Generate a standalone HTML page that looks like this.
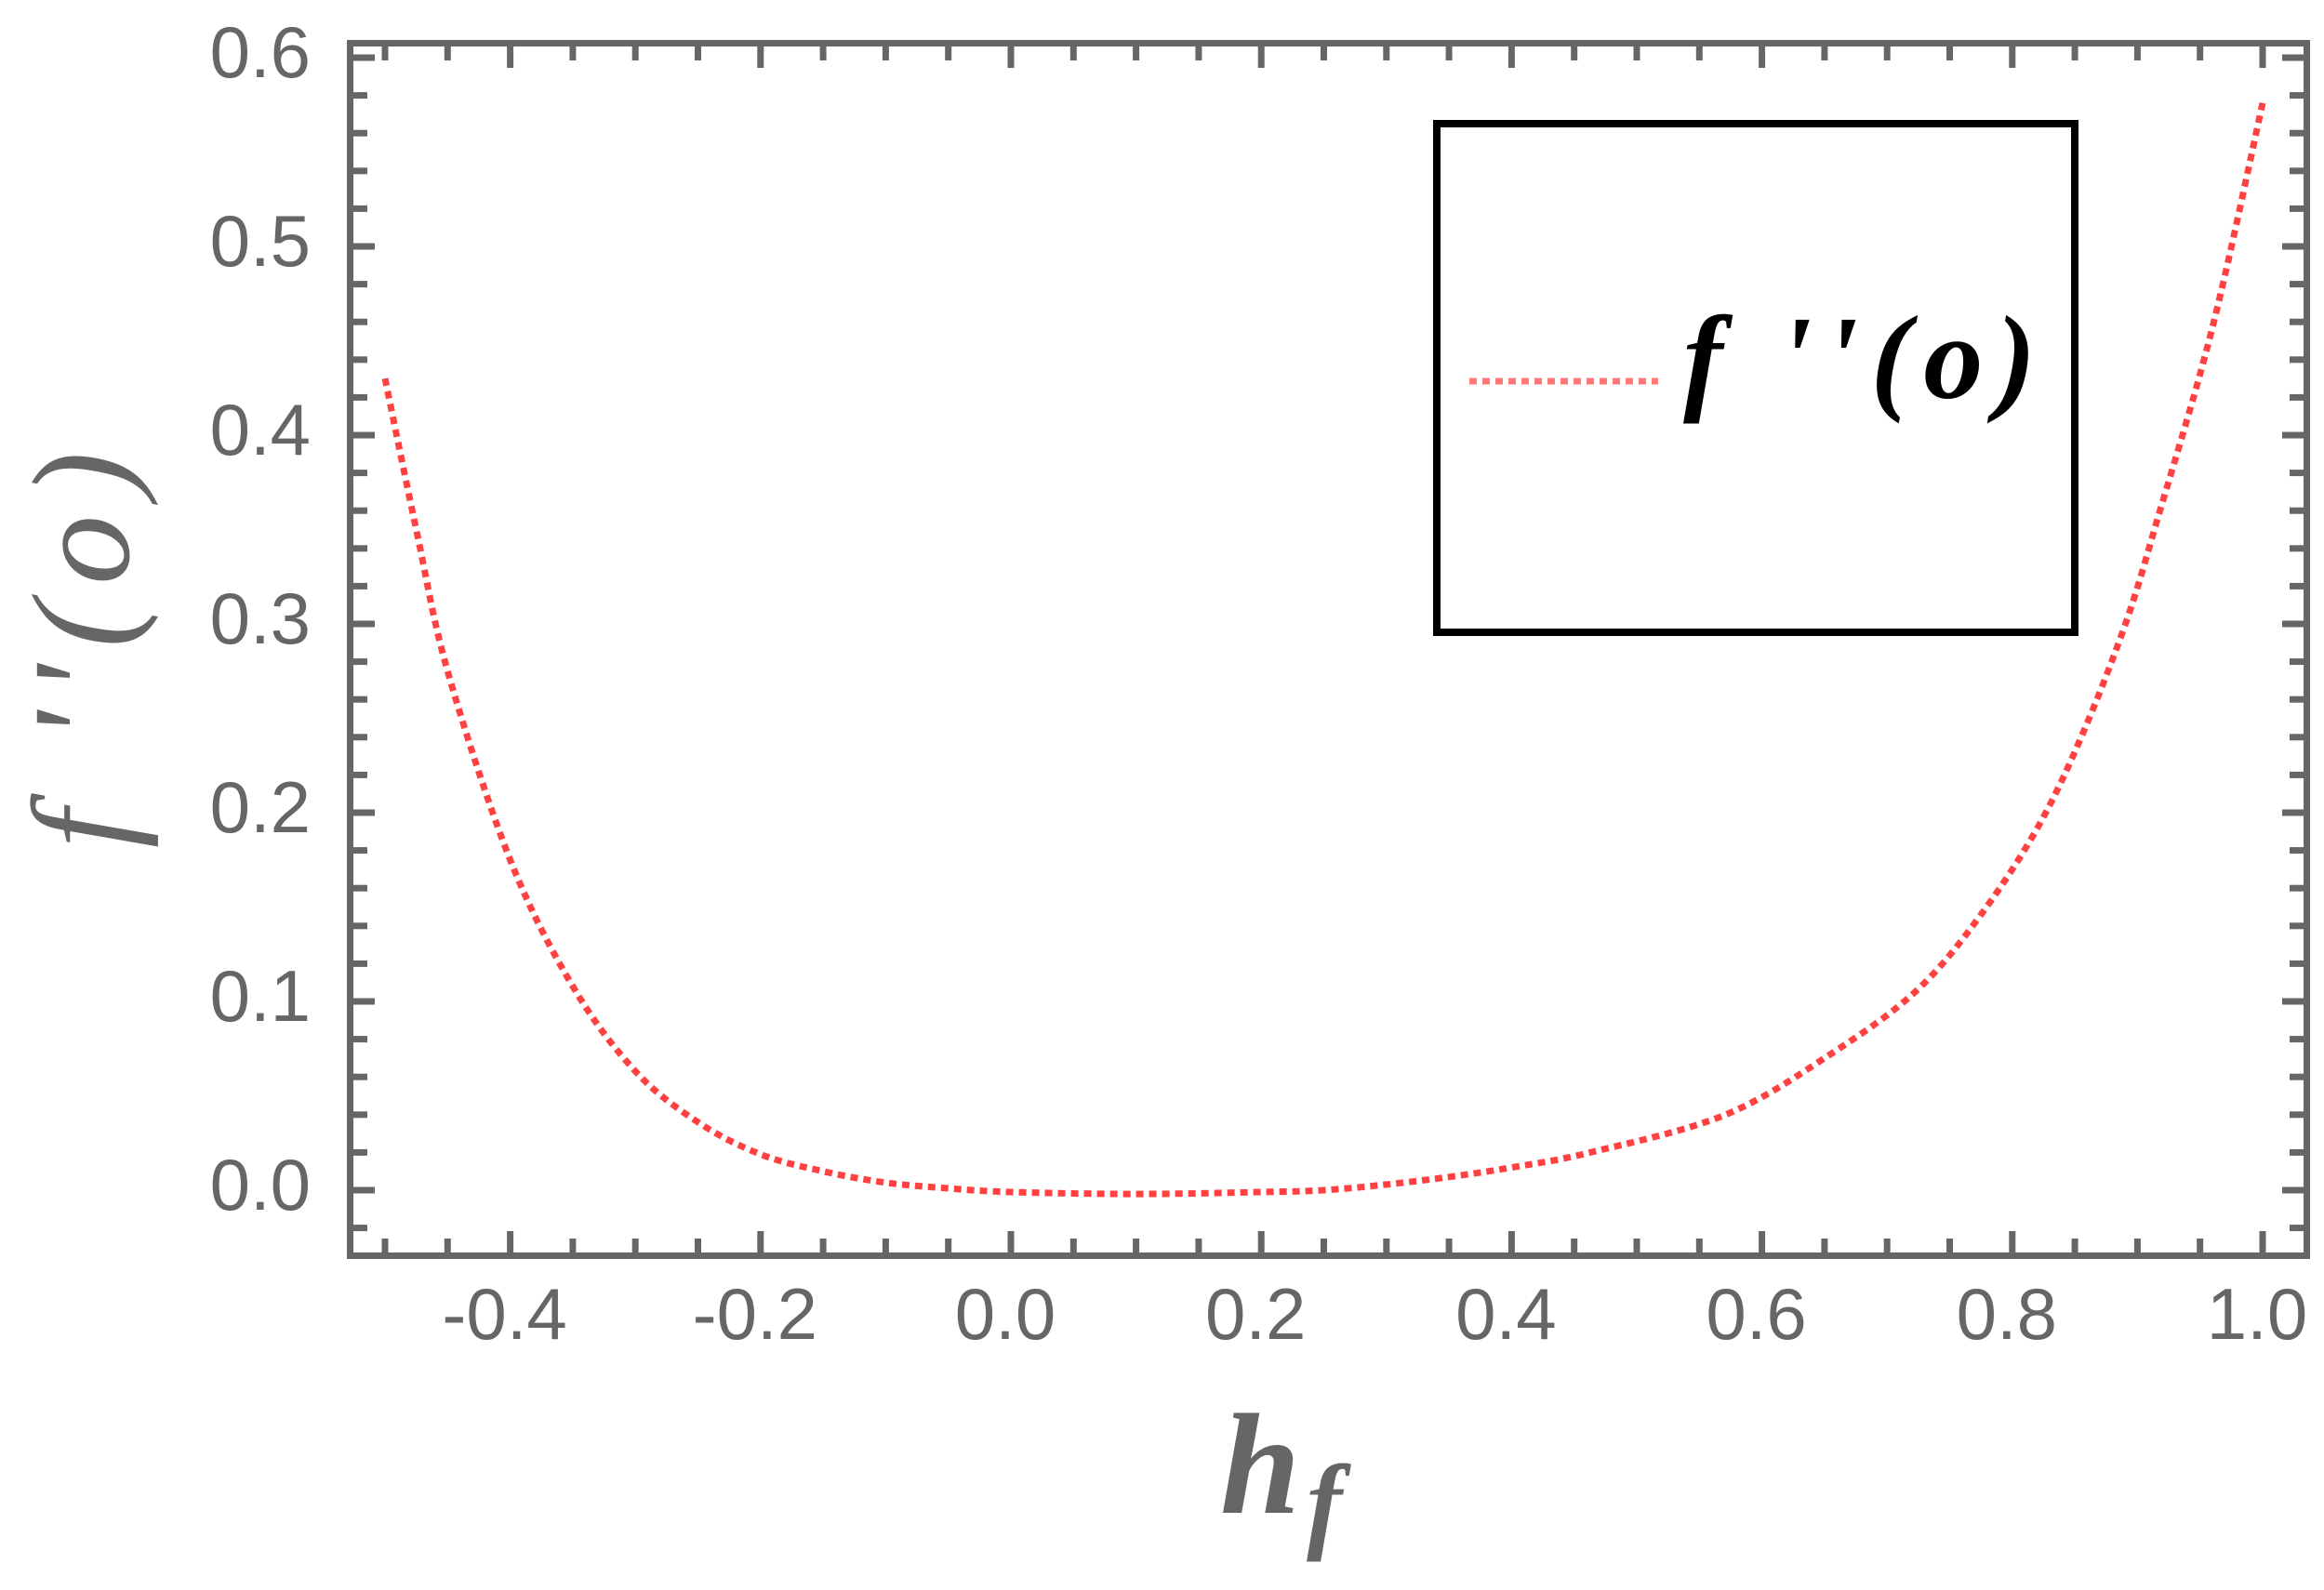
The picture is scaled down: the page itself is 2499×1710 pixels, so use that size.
<!DOCTYPE html>
<html><head><meta charset="utf-8"><style>
html,body{margin:0;padding:0;background:#fff;}
svg{display:block;}
</style></head><body>
<svg id="chart" width="2499" height="1710" viewBox="0 0 2499 1710" xmlns="http://www.w3.org/2000/svg">
  <rect x="0" y="0" width="2499" height="1710" fill="#fff"/>
  <g id="ticks"></g>
  <g id="labels" font-family="Liberation Sans, sans-serif" font-size="78" fill="#666"></g>
  <path id="curve" fill="none" stroke="#ff2020" stroke-opacity="0.85" stroke-width="7" stroke-dasharray="8 6"/>
  <rect x="376.5" y="46.5" width="2104" height="1304" fill="none" stroke="#666" stroke-width="7"/>
  <g>
    <rect x="1545" y="133" width="686" height="547" fill="#fff" stroke="#000" stroke-width="8"/>
    <line x1="1580" y1="410" x2="1783" y2="410" stroke="#ff2020" stroke-opacity="0.6" stroke-width="7" stroke-dasharray="8 6"/>
    <text x="1810" y="428" font-family="Liberation Serif, serif" font-style="italic" font-weight="bold" font-size="128" letter-spacing="14" fill="#000">f ''(o)</text>
  </g>
  <text transform="translate(138,690) rotate(-90)" text-anchor="middle" font-family="Liberation Serif, serif" font-style="italic" font-size="150" letter-spacing="18" fill="#666">f ''(o)</text>
  <g font-family="Liberation Serif, serif" font-style="italic" font-weight="bold" fill="#666">
    <text x="1312" y="1627" font-size="155">h</text>
    <text x="1405" y="1655" font-size="115">f</text>
  </g>
</svg>
<script>
const xValues = [-0.5,-0.475,-0.45,-0.4,-0.35,-0.3,-0.25,-0.2,-0.15,-0.1,-0.05,0,0.1,0.2,0.25,0.3,0.35,0.4,0.463,0.571,0.657,0.724,0.775,0.821,0.857,0.892,0.918,0.949,0.97,1.0];
const yValues = [0.43,0.35,0.275,0.175,0.108,0.063,0.036,0.019,0.01,0.004,0.001,-0.001,-0.002,-0.001,0.0,0.003,0.007,0.012,0.02,0.04,0.073,0.106,0.146,0.193,0.243,0.303,0.36,0.43,0.485,0.576];
const xTickLabels = ["-0.4","-0.2","0.0","0.2","0.4","0.6","0.8","1.0"];
const xTickValues = [-0.4,-0.2,0,0.2,0.4,0.6,0.8,1.0];
const yTickLabels = ["0.0","0.1","0.2","0.3","0.4","0.5","0.6"];
const yTickValues = [0,0.1,0.2,0.3,0.4,0.5,0.6];

const NS = "http://www.w3.org/2000/svg";
const X = v => 1087 + v * 1346;
const Y = v => 1280 - v * 2030;
const L = 380, R = 2477, T = 50, B = 1347;

const ticks = document.getElementById('ticks');
function tick(x1,y1,x2,y2){
  const l = document.createElementNS(NS,'line');
  l.setAttribute('x1',x1);l.setAttribute('y1',y1);l.setAttribute('x2',x2);l.setAttribute('y2',y2);
  l.setAttribute('stroke','#666');l.setAttribute('stroke-width','7');
  
  
  ticks.appendChild(l);
}
for (let i = -10; i <= 20; i++) {
  const v = i * 0.05, x = X(v);
  if (x < L || x > R) continue;
  const major = i % 4 === 0;
  const len = major ? 23 : 15;
  tick(x, B, x, B - len);
  tick(x, T, x, T + len);
}
for (let i = -3; i <= 31; i++) {
  const v = i * 0.02, y = Y(v);
  if (y < T || y > B) continue;
  const major = i % 5 === 0;
  const len = major ? 23 : 15;
  tick(L, y, L + len, y);
  tick(R, y, R - len, y);
}
const labels = document.getElementById('labels');
xTickValues.forEach((v,i) => {
  const t = document.createElementNS(NS,'text');
  t.setAttribute('x', X(v) - 6);
  t.setAttribute('y', 1440);
  t.setAttribute('text-anchor','middle');
  t.textContent = xTickLabels[i];
  
  
  labels.appendChild(t);
});
yTickValues.forEach((v,i) => {
  const t = document.createElementNS(NS,'text');
  t.setAttribute('x', 334);
  t.setAttribute('y', Y(v) + 21);
  t.setAttribute('text-anchor','end');
  t.textContent = yTickLabels[i];
  
  
  labels.appendChild(t);
});
const pts = xValues.map((v,i) => [X(v), Y(yValues[i])]);
let d = 'M' + pts[0][0].toFixed(1) + ',' + pts[0][1].toFixed(1);
for (let i = 0; i < pts.length - 1; i++) {
  const p0 = pts[Math.max(0,i-1)], p1 = pts[i], p2 = pts[i+1], p3 = pts[Math.min(pts.length-1,i+2)];
  const c1 = [p1[0] + (p2[0]-p0[0])/6, p1[1] + (p2[1]-p0[1])/6];
  const c2 = [p2[0] - (p3[0]-p1[0])/6, p2[1] - (p3[1]-p1[1])/6];
  d += ' C' + c1[0].toFixed(1) + ',' + c1[1].toFixed(1) + ' ' + c2[0].toFixed(1) + ',' + c2[1].toFixed(1) + ' ' + p2[0].toFixed(1) + ',' + p2[1].toFixed(1);
}
document.getElementById('curve').setAttribute('d', d);
</script>
</body></html>
